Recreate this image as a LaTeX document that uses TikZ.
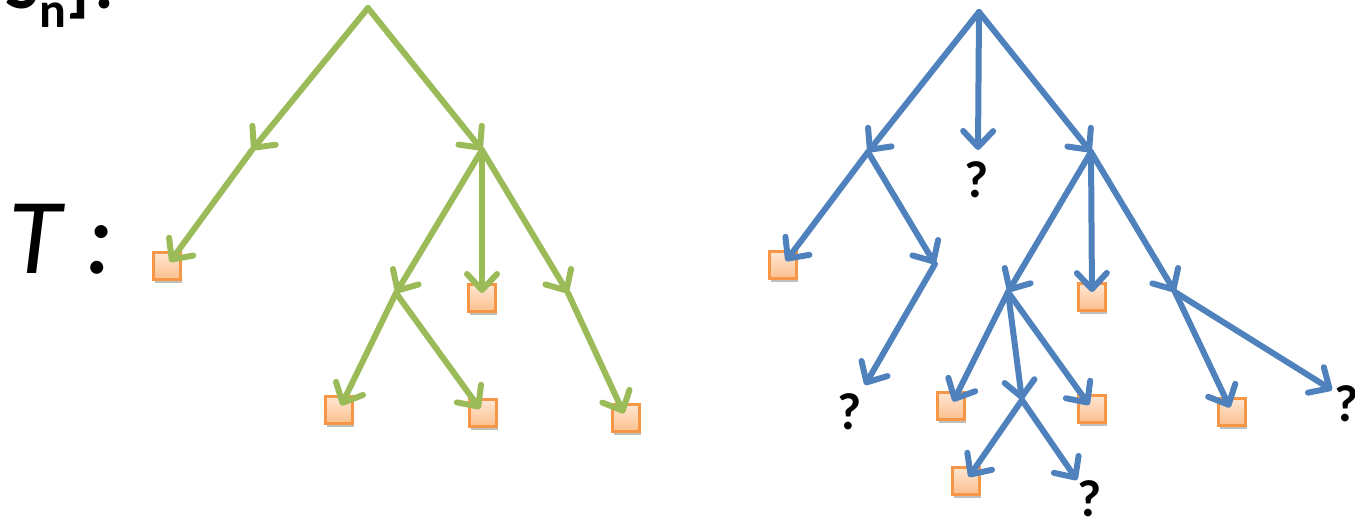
\documentclass[tikz,border=0pt]{standalone}
\usepackage{fontspec}
\setmainfont{Carlito}
\usetikzlibrary{arrows.meta,shadows}

\definecolor{treegreen}{HTML}{9BBB59}
\definecolor{treeblue}{HTML}{4F81BD}
\definecolor{leafline}{HTML}{F79646}
\definecolor{leaftop}{HTML}{FFE6D2}
\definecolor{leafbot}{HTML}{FBC08E}

\begin{document}
\begin{tikzpicture}[x=1pt,y=-1pt,
    edge/.style={line width=6pt,line cap=round,
        -{Straight Barb[length=16pt,width=30pt,round]}},
    leaf/.style={draw=leafline,line width=2.5pt,top color=leaftop,
        bottom color=leafbot,minimum size=27pt,inner sep=0pt,
        drop shadow={shadow xshift=1.5pt,shadow yshift=-3pt,
            opacity=.25,fill=black}},
    query/.style={inner sep=0pt,font=\fontsize{52}{52}\selectfont\bfseries}]
    \useasboundingbox (0,0) rectangle (1355,517);
    %% Labels
    \node[anchor=base west,inner sep=0pt,font=\fontsize{72}{72}\selectfont\bfseries]
        (set) at (5,8) {S\raisebox{-19pt}{\fontsize{50}{50}\selectfont n}]\hspace{5pt}:};
    \node[anchor=base west,inner sep=0pt,font=\fontsize{108}{108}\selectfont\itshape]
        (T) at (8,273) {T :};

    %% Left tree
    \coordinate (g)   at (368,8);
    \coordinate (g1)  at (252,150);
    \coordinate (g2)  at (482,150);
    \coordinate (g21) at (396,293);
    \coordinate (g23) at (568,293);
    \node[leaf] (gl1) at (167,266) {};
    \node[leaf] (gl2) at (482,298) {};
    \node[leaf] (gl3) at (339,410) {};
    \node[leaf] (gl4) at (483,413) {};
    \node[leaf] (gl5) at (626,418) {};
    \begin{scope}[every path/.style={edge,treegreen}]
        \draw (g) -- (g1);
        \draw (g) -- (g2);
        \draw[shorten >=5pt] (g1) -- (gl1.center);
        \draw (g2) -- (g21);
        \draw[shorten >=5pt] (g2) -- (gl2.center);
        \draw (g2) -- (g23);
        \draw[shorten >=5pt] (g21) -- (gl3.center);
        \draw[shorten >=5pt] (g21) -- (gl4.center);
        \draw[shorten >=5pt] (g23) -- (gl5.center);
    \end{scope}

    %% Right tree
    \coordinate (b)    at (979,12);
    \coordinate (b1)   at (868,152);
    \coordinate (b2)   at (1091,152);
    \coordinate (b12)  at (935,264);
    \coordinate (b21)  at (1008,292);
    \coordinate (b23)  at (1175,292);
    \coordinate (b212) at (1022,400);
    \coordinate (t1) at (978,150);
    \coordinate (t2) at (865,385);
    \coordinate (t3) at (1077,480);
    \coordinate (t4) at (1332,390);
    \node[query] (q1) at (977,180) {?};
    \node[query] (q2) at (850,412) {?};
    \node[query] (q3) at (1090,499) {?};
    \node[query] (q4) at (1347,404) {?};
    \node[leaf] (bl1) at (783,265) {};
    \node[leaf] (bl2) at (1092,297) {};
    \node[leaf] (bl3) at (951,406) {};
    \node[leaf] (bl4) at (1092,409) {};
    \node[leaf] (bl5) at (966,481) {};
    \node[leaf] (bl6) at (1232,412) {};
    \begin{scope}[every path/.style={edge,treeblue}]
        \draw (b) -- (b1);
        \draw (b) -- (t1);
        \draw (b) -- (b2);
        \draw[shorten >=5pt] (b1) -- (bl1.center);
        \draw (b1) -- (b12);
        \draw (b12) -- (t2);
        \draw (b2) -- (b21);
        \draw[shorten >=5pt] (b2) -- (bl2.center);
        \draw (b2) -- (b23);
        \draw[shorten >=5pt] (b21) -- (bl3.center);
        \draw (b21) -- (b212);
        \draw[shorten >=5pt] (b21) -- (bl4.center);
        \draw[shorten >=5pt] (b212) -- (bl5.center);
        \draw (b212) -- (t3);
        \draw[shorten >=5pt] (b23) -- (bl6.center);
        \draw (b23) -- (t4);
    \end{scope}
\end{tikzpicture}
\end{document}
